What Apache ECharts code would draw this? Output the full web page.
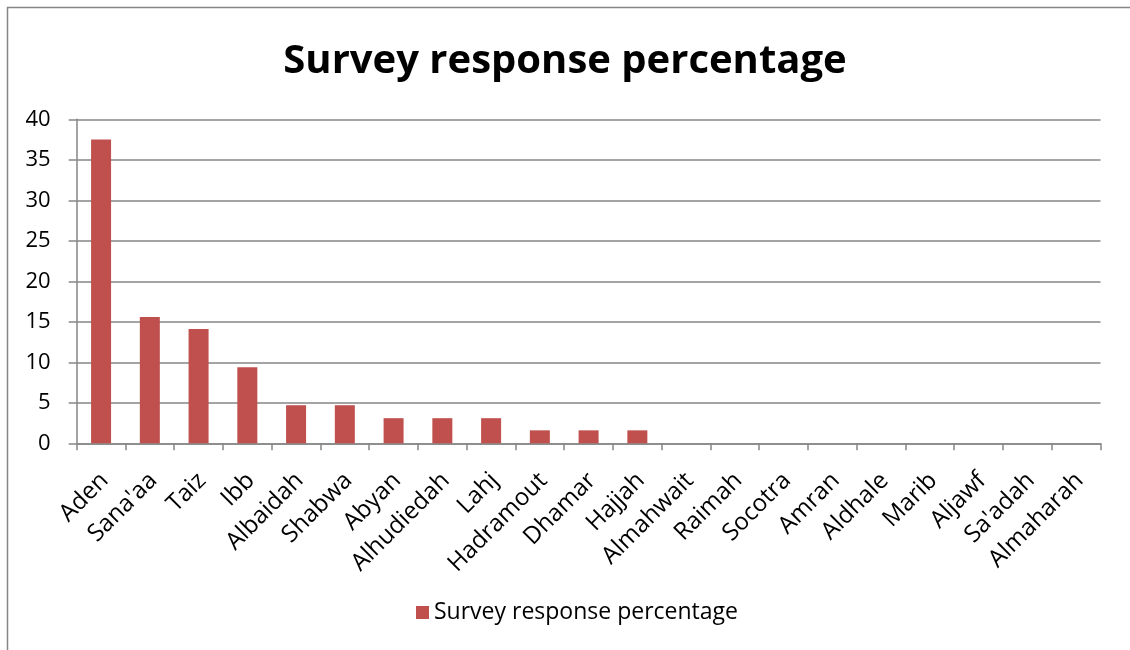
<!DOCTYPE html>
<html>
<head>
<meta charset="utf-8">
<script src="https://cdn.jsdelivr.net/npm/echarts@6/dist/echarts.min.js"></script>
<style>
  html, body { margin: 0; padding: 0; background: #fff; }
  #chart { width: 1130px; height: 650px; }
</style>
</head>
<body>
<div id="chart"></div>
<script>
// Governorates surveyed
const categories = [
  'Aden', "Sana'aa", 'Taiz', 'Ibb', 'Albaidah', 'Shabwa', 'Abyan', 'Alhudiedah',
  'Lahj', 'Hadramout', 'Dhamar', 'Hajjah', 'Almahwait', 'Raimah', 'Socotra',
  'Amran', 'Aldhale', 'Marib', 'Aljawf', "Sa'adah", 'Almaharah'
];
// Share of responses per governorate (%)
const responsePct = [
  37.5, 15.6, 14.1, 9.4, 4.7, 4.7, 3.1, 3.1,
  3.1, 1.6, 1.6, 1.6, 0, 0, 0,
  0, 0, 0, 0, 0, 0
];
const yTicks = { min: 0, max: 40, interval: 5 };
const seriesName = 'Survey response percentage';

const FONT = '"Open Sans", "Noto Sans", sans-serif';
const AXIS_GRAY = '#868686';

const chart = echarts.init(document.getElementById('chart'), null, { renderer: 'canvas' });
chart.setOption({
  backgroundColor: '#ffffff',
  animation: false,
  title: {
    text: 'Survey response percentage',
    left: 'center',
    top: 37,
    textStyle: { fontFamily: FONT, fontSize: 40, fontWeight: 'bold', color: '#000' }
  },
  legend: {
    data: [seriesName],
    bottom: 21,
    left: 411,
    icon: 'rect',
    itemWidth: 13,
    itemHeight: 13,
    itemGap: 8,
    textStyle: { fontFamily: FONT, fontSize: 23, color: '#000' }
  },
  grid: { left: 76.7, right: 29.5, top: 119.3, bottom: 206.7, containLabel: false },
  xAxis: {
    type: 'category',
    data: categories,
    boundaryGap: true,
    axisLine: { lineStyle: { color: AXIS_GRAY, width: 1.5 } },
    axisTick: { show: true, length: 7, lineStyle: { color: AXIS_GRAY, width: 1.5 } },
    axisLabel: {
      rotate: 45, fontFamily: FONT, fontSize: 24, lineHeight: 10, color: '#000',
      margin: 30, interval: 0, verticalAlign: 'top'
    }
  },
  yAxis: {
    type: 'value',
    min: yTicks.min,
    max: yTicks.max,
    interval: yTicks.interval,
    axisLine: { show: true, lineStyle: { color: AXIS_GRAY, width: 1.5 } },
    axisTick: { show: true, inside: false, length: 8, lineStyle: { color: AXIS_GRAY, width: 1.5 } },
    splitLine: { show: true, lineStyle: { color: AXIS_GRAY, width: 1.5 } },
    axisLabel: { fontFamily: FONT, fontSize: 22, color: '#000', margin: 26 }
  },
  series: [{
    name: seriesName,
    type: 'bar',
    data: responsePct,
    barWidth: 20,
    itemStyle: { color: '#C0504D' }
  }],
  graphic: [{
    type: 'rect',
    shape: { x: 7.5, y: 7.5, width: 1140, height: 700 },
    style: { fill: 'none', stroke: '#868686', lineWidth: 1.5 },
    silent: true,
    z: 100
  }]
});
</script>
</body>
</html>
